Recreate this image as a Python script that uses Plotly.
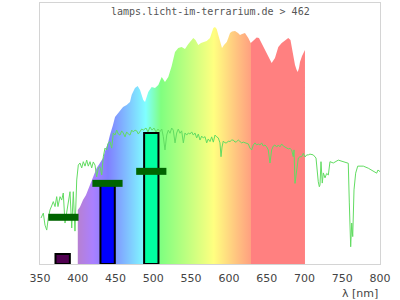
import plotly.graph_objects as go

# ---- lamp spectrum (relative intensity, 0-100) ----
spec_nm = [400, 400, 402.9, 406.9, 410.9, 416.2, 420.1, 425.0, 429.4, 433.4, 437.4, 440.0, 442.6, 444.9,
           446.6, 449.3, 451.5, 455.9, 459.9, 464.7, 469.1, 471.4, 475.7, 479.3, 482.4, 486.7,
           489.0, 493.3, 497.8, 502.2, 506.6, 511.1, 515.4, 519.8, 524.3, 528.7, 533.0, 537.5,
           541.9, 546.3, 548.5, 552.9, 555.8, 559.5, 563.1, 566.1, 570.6, 575.0, 577.7, 579.4,
           581.6, 583.9, 586.0, 588.2, 590.9, 593.5, 597.1, 599.2, 601.5, 604.1, 608.1, 612.1,
           614.7, 617.4, 621.3, 625.7, 628.9, 631.9, 636.8, 639.8, 642.5, 645.1, 650.0, 653.1,
           656.6, 661.0, 665.4, 669.9, 674.3, 678.6, 681.5, 683.1, 685.5, 687.5, 689.7, 691.1,
           692.8, 694.1, 696.8, 699.5, 700.7, 700.7]
spec_val = [0, 20.7, 21.8, 24.5, 26.4, 30.3, 33.0, 36.8, 38.7, 40.6, 44.4, 46.4, 49.4, 51.3,
            53.3, 56.3, 57.1, 59.0, 60.2, 60.9, 62.1, 64.8, 67.4, 68.2, 66.7, 62.8,
            62.1, 65.9, 67.8, 67.4, 68.6, 71.6, 69.7, 71.6, 75.9, 81.2, 82.8, 83.1,
            82.4, 84.3, 85.1, 86.6, 85.8, 83.9, 84.7, 85.1, 85.4, 86.6, 88.5, 90.4,
            90.8, 90.0, 87.7, 85.1, 82.8, 83.9, 85.1, 86.6, 88.5, 89.1, 89.3, 88.5,
            87.7, 88.1, 88.5, 86.6, 84.7, 85.4, 86.8, 86.6, 85.1, 83.5, 80.8, 78.9,
            77.0, 78.9, 83.1, 84.7, 85.8, 86.6, 85.8, 82.8, 78.9, 76.2, 74.3, 73.6,
            75.1, 77.4, 79.7, 81.2, 82.0, 0]

# ---- daylight reference curve ----
ref_nm = [351.3, 354.4, 356.6, 358.9, 361.0, 363.2, 365.9, 367.6, 369.9, 372.1, 373.8, 376.5, 378.7,
          380.8, 383.1, 385.3, 387.1, 389.7, 392.0, 394.1, 396.3, 398.6, 400.7, 402.9, 405.2,
          407.3, 409.6, 411.8, 413.9, 416.2, 418.4, 420.5, 422.8, 425.0, 427.2, 429.4, 431.7,
          433.8, 436.0, 438.3, 440.0, 442.6, 444.9, 447.0, 449.3, 451.5, 453.6, 455.9, 458.1,
          460.2, 462.5, 464.7, 466.9, 469.1, 471.4, 473.5, 475.7, 478.0, 480.1, 482.4, 484.6,
          486.7, 490.3, 492.9, 495.6, 498.2, 500.9, 503.5, 506.2, 508.8, 511.1, 513.2, 515.4,
          517.7, 519.8, 522.1, 524.3, 526.4, 528.7, 530.9, 533.0, 535.3, 537.5, 539.7, 541.9,
          544.2, 546.3, 548.5, 550.8, 552.9, 555.1, 557.4, 559.5, 561.8, 564.0, 566.1, 568.4,
          570.6, 572.7, 575.0, 577.2, 579.4, 581.6, 583.9, 586.0, 588.2, 589.6, 590.9, 592.6,
          594.9, 597.1, 599.2, 601.5, 603.7, 605.8, 608.1, 610.3, 612.4, 614.7, 616.9, 619.1,
          621.3, 623.5, 625.7, 627.9, 630.2, 632.3, 634.6, 636.8, 638.9, 641.2, 643.4, 645.5,
          647.8, 650.0, 652.1, 654.4, 656.6, 658.8, 661.0, 663.3, 665.4, 667.6, 669.9, 672.0,
          674.3, 676.5, 678.6, 680.9, 683.1, 685.2, 686.2, 687.5, 689.7, 691.9, 694.1, 696.4,
          698.5, 700.7, 703.0, 705.1, 707.3, 711.7, 715.3, 717.0, 718.3, 719.7, 720.6, 721.9,
          723.6, 725.0, 727.2, 729.4, 731.6, 733.8, 738.2, 744.8, 751.4, 758.0, 759.4, 761.2,
          762.6, 763.9, 765.6, 767.8, 770.5, 777.9, 784.5, 791.1, 795.6, 797.3, 800.0]
ref_val = [17.6, 19.5, 14.9, 13.0, 17.6, 20.7, 22.6, 23.9, 22.0, 25.8, 22.0, 25.8, 24.5,
           27.2, 15.7, 19.5, 23.4, 27.7, 13.8, 27.7, 12.6, 32.2, 37.9, 38.7, 36.8,
           39.2, 37.5, 39.8, 37.5, 39.2, 36.8, 39.1, 37.9, 33.4, 36.8, 37.3, 34.1,
           41.1, 44.4, 43.7, 46.2, 46.9, 44.4, 50.2, 49.4, 51.3, 49.8, 49.4, 51.0,
           50.2, 48.7, 50.6, 49.8, 49.4, 51.3, 50.6, 51.3, 51.0, 49.8, 50.6, 51.7,
           51.3, 52.1, 50.6, 52.5, 51.3, 52.1, 50.6, 51.7, 50.7, 51.7, 48.8, 43.7,
           49.4, 51.3, 50.1, 52.1, 51.3, 46.4, 50.2, 51.7, 50.1, 51.0, 46.4, 50.2,
           49.4, 50.2, 49.8, 50.6, 49.4, 50.2, 48.3, 49.8, 47.5, 49.0, 48.3, 48.8,
           46.4, 47.9, 46.9, 48.7, 46.7, 49.4, 48.7, 48.3, 46.4, 41.1, 44.8, 47.1,
           46.4, 46.4, 47.1, 46.9, 47.5, 47.5, 46.7, 46.9, 47.5, 47.1, 46.4, 46.7,
           46.4, 46.4, 46.0, 44.4, 43.7, 45.6, 46.4, 45.6, 46.0, 45.6, 46.4, 45.2,
           45.6, 44.9, 43.7, 38.7, 43.7, 45.2, 45.6, 44.8, 45.6, 44.9, 46.0, 45.2,
           44.8, 44.4, 44.1, 44.3, 43.7, 41.1, 43.7, 30.9, 36.0, 40.6, 41.1, 41.1,
           42.4, 41.0, 41.8, 41.8, 42.1, 41.8, 40.6, 34.7, 31.5, 29.6, 30.3, 39.2,
           31.0, 34.9, 33.0, 34.7, 34.1, 39.2, 38.7, 39.8, 39.1, 38.6, 23.4, 6.6,
           15.7, 10.5, 28.4, 34.8, 37.5, 37.5, 36.7, 35.4, 34.8, 36.0, 35.4]

# ---- LED peaks ----
led_nm = [380, 439.5, 497.3]
led_val = [3.8, 31.0, 50.2]
led_width = [19, 19, 19]
led_colors = ["#500050", "#0000ff", "#00ffa0"]

# ---- target markers ----
mark_nm = [381, 439.3, 497.3]
mark_val = [17.9, 30.9, 35.5]
mark_half = 20

x_ticks = [350, 400, 450, 500, 550, 600, 650, 700, 750, 800]

gradient = [[0.0, "#b780d2"], [20 / 300, "#aa80ff"], [40 / 300, "#8080ff"], [65 / 300, "#80bfff"],
            [90 / 300, "#80ffff"], [110 / 300, "#80ff80"], [145 / 300, "#bfff80"],
            [180 / 300, "#ffff80"], [212.5 / 300, "#ffbf80"], [229 / 300, "#ffa080"],
            [229.5 / 300, "#ff8080"], [1.0, "#ff8080"]]

fig = go.Figure()
fig.add_trace(go.Scatter(x=spec_nm, y=spec_val, mode="lines", fill="toself",
                         fillgradient=dict(type="horizontal", colorscale=gradient, start=400, stop=700),
                         line=dict(width=0), hoverinfo="skip", showlegend=False))
fig.add_trace(go.Scatter(x=ref_nm, y=ref_val, mode="lines",
                         line=dict(color="#62dc62", width=1), showlegend=False))
fig.add_trace(go.Bar(x=led_nm, y=led_val, width=led_width,
                     marker=dict(color=led_colors, line=dict(color="black", width=2)),
                     xaxis="x", yaxis="y2", showlegend=False))
mx, my = [], []
for c, v in zip(mark_nm, mark_val):
    mx += [c - mark_half, c + mark_half, None]
    my += [v, v, None]
fig.add_trace(go.Scatter(x=mx, y=my, mode="lines", line=dict(color="#006400", width=7),
                         xaxis="x", yaxis="y2", showlegend=False))

fig.update_layout(
    width=400, height=300,
    margin=dict(l=40, r=20, t=3, b=36),
    paper_bgcolor="white", plot_bgcolor="white",
    barmode="overlay",
    xaxis=dict(range=[350, 800], tickvals=x_ticks, showline=True, mirror=True,
               linecolor="#d4d4d4", linewidth=1, showgrid=False, zeroline=False,
               ticks="outside", ticklen=4, tickcolor="rgba(0,0,0,0)",
               tickfont=dict(family="DejaVu Sans", size=11, color="#444")),
    yaxis=dict(range=[0, 100], showline=True, mirror=True, linecolor="#d4d4d4", linewidth=1,
               showgrid=False, zeroline=False, showticklabels=False, ticks=""),
    yaxis2=dict(range=[0, 100], overlaying="y", visible=False),
    annotations=[
        dict(text="lamps.licht-im-terrarium.de > 462", xref="paper", yref="paper",
             x=0.5, y=(264 - 11) / 261, xanchor="center", yanchor="middle", showarrow=False,
             font=dict(family="DejaVu Sans Mono", size=10, color="#555")),
        dict(text="λ [nm]", xref="paper", yref="paper", x=1, y=-(293 - 264) / 261,
             xanchor="right", yanchor="middle", showarrow=False,
             font=dict(family="DejaVu Sans", size=11, color="#444")),
    ],
)

fig.write_html("out.html")
